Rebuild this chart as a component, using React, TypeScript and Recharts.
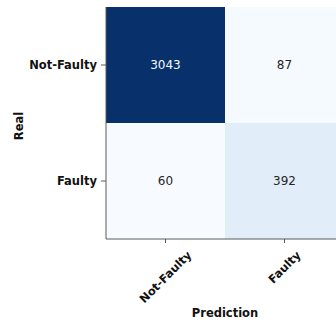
import { BarChart, Bar, XAxis, YAxis, Cell, LabelList } from "recharts";

// Confusion matrix: columns are predicted class, rows are real class
const predictedClasses = ["Not-Faulty", "Faulty"];
const realClasses = ["Not-Faulty", "Faulty"];
const realNotFaulty = [3043, 87]; // top row
const realFaulty = [60, 392]; // bottom row

const FONT = "DejaVu Sans, sans-serif";
const SPINE = "#5a5a5a";

// matplotlib "Blues" colormap stops
const BLUES = ["#f7fbff", "#deebf7", "#c6dbef", "#9ecae1", "#6baed6", "#4292c6", "#2171b5", "#08519c", "#08306b"];

const allCounts = [...realNotFaulty, ...realFaulty];
const vmin = Math.min(...allCounts);
const vmax = Math.max(...allCounts);

function hexToRgb(h: string) {
  const n = parseInt(h.slice(1), 16);
  return [(n >> 16) & 255, (n >> 8) & 255, n & 255];
}

function blues(v: number): string {
  const t = Math.max(0, Math.min(1, (v - vmin) / (vmax - vmin)));
  const pos = t * (BLUES.length - 1);
  const i = Math.min(Math.floor(pos), BLUES.length - 2);
  const f = pos - i;
  const a = hexToRgb(BLUES[i]);
  const b = hexToRgb(BLUES[i + 1]);
  const c = a.map((x, k) => Math.round(x + (b[k] - x) * f));
  return `rgb(${c[0]},${c[1]},${c[2]})`;
}

const thresh = (vmin + vmax) / 2;

// each cell is one unit tall; the stacked bars form the two rows
const table = predictedClasses.map((p, i) => ({
  pred: p,
  nf: realNotFaulty[i],
  f: realFaulty[i],
  rowTop: 1,
  rowBottom: 1,
}));

let ctx: CanvasRenderingContext2D | null = null;
function textWidth(s: string, font: string) {
  if (!ctx) ctx = document.createElement("canvas").getContext("2d");
  if (!ctx) return s.length * 7;
  ctx.font = font;
  return ctx.measureText(s).width;
}

const TICK_FONT_SIZE = 11.5;

function RotatedTick(props: any) {
  const { x, y, payload } = props;
  const w = textWidth(payload.value, `bold ${TICK_FONT_SIZE}px DejaVu Sans`);
  // rotated 45deg, box centred under the tick
  const cy = y + 8 + w * 0.354;
  return (
    <text
      x={x}
      y={cy}
      textAnchor="middle"
      dominantBaseline="central"
      transform={`rotate(-45, ${x}, ${cy})`}
      fontFamily={FONT}
      fontSize={TICK_FONT_SIZE}
      fontWeight="bold"
      fill="#111"
    >
      {payload.value}
    </text>
  );
}

function renderCount(props: any) {
  const vb = props.viewBox ?? props;
  const { x, y, width, height } = vb;
  const value = Number(props.value);
  return (
    <text
      x={x + width / 2}
      y={y + height / 2}
      textAnchor="middle"
      dominantBaseline="central"
      fontFamily={FONT}
      fontSize={12}
      fill={value > thresh ? "#f4f7fb" : "#262626"}
    >
      {value}
    </text>
  );
}

export default function App() {
  return (
    <div style={{ position: "absolute", left: 0, top: 0, width: 336, height: 321, overflow: "hidden", background: "#fff" }}>
      <BarChart
        width={344}
        height={321}
        data={table}
        barCategoryGap={0}
        margin={{ top: 7, right: 0, left: 0, bottom: 0 }}
      >
        <XAxis
          dataKey="pred"
          height={82}
          tickSize={4}
          tickMargin={2}
          axisLine={{ stroke: SPINE }}
          tickLine={{ stroke: SPINE }}
          tick={RotatedTick}
          interval={0}
          label={{
            value: "Prediction",
            position: "insideBottom",
            offset: 4,
            fontFamily: FONT,
            fontSize: 11.5,
            fontWeight: "bold",
            fill: "#111",
          }}
        />
        <XAxis xAxisId="top" orientation="top" dataKey="pred" height={0} tick={false} tickLine={false} axisLine={{ stroke: SPINE }} />
        <YAxis
          type="number"
          domain={[0, 2]}
          ticks={[0.5, 1.5]}
          width={106}
          tickSize={5}
          tickMargin={4}
          axisLine={{ stroke: SPINE }}
          tickLine={{ stroke: SPINE }}
          tickFormatter={(v: number) => (v > 1 ? realClasses[0] : realClasses[1])}
          tick={{ fontFamily: FONT, fontSize: TICK_FONT_SIZE, fontWeight: "bold", fill: "#111" }}
          label={{
            content: (p: any) => {
              const vb = p.viewBox;
              const cy = vb.y + vb.height / 2 + 3;
              return (
                <text
                  x={23}
                  y={cy}
                  textAnchor="middle"
                  transform={`rotate(-90, 23, ${cy})`}
                  fontFamily={FONT}
                  fontSize={11.5}
                  fontWeight="bold"
                  fill="#111"
                >
                  Real
                </text>
              );
            },
          }}
        />
        <Bar dataKey="rowBottom" stackId="real" isAnimationActive={false}>
          {table.map((d) => (
            <Cell key={d.pred} fill={blues(d.f)} />
          ))}
          <LabelList dataKey="f" content={renderCount} />
        </Bar>
        <Bar dataKey="rowTop" stackId="real" isAnimationActive={false}>
          {table.map((d) => (
            <Cell key={d.pred} fill={blues(d.nf)} />
          ))}
          <LabelList dataKey="nf" content={renderCount} />
        </Bar>
      </BarChart>
    </div>
  );
}
